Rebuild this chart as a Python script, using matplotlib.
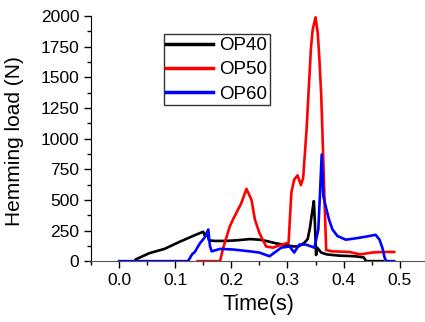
import matplotlib
matplotlib.use("Agg")
import matplotlib.pyplot as plt
from matplotlib.ticker import MultipleLocator

plt.rcParams['font.family'] = ['Liberation Sans', 'DejaVu Sans']

# OP40 (black)
t_op40 = [0.028, 0.03, 0.054, 0.081, 0.108, 0.135, 0.15, 0.153, 0.157, 0.16, 0.17, 0.19,
          0.21, 0.233, 0.25, 0.262, 0.28, 0.30, 0.31, 0.32, 0.33, 0.336, 0.34, 0.344,
          0.347, 0.349, 0.351, 0.353, 0.36, 0.37, 0.392, 0.42, 0.436, 0.44, 0.47]
f_op40 = [0, 15, 65, 100, 158, 212, 240, 205, 235, 170, 165, 165,
          170, 180, 175, 165, 145, 130, 120, 120, 150, 180, 270, 400,
          490, 300, 50, 110, 70, 55, 45, 40, 30, 0, 0]

# OP50 (red)
t_op50 = [0.14, 0.18, 0.185, 0.197, 0.203, 0.218, 0.227, 0.236, 0.242, 0.25, 0.262,
          0.274, 0.29, 0.302, 0.307, 0.312, 0.318, 0.324, 0.328, 0.334, 0.336, 0.339,
          0.342, 0.345, 0.35, 0.354, 0.357, 0.36, 0.362, 0.366, 0.369, 0.38, 0.41,
          0.43, 0.45, 0.47, 0.49]
f_op50 = [0, 0, 100, 280, 340, 475, 590, 500, 340, 230, 120,
          110, 135, 150, 560, 665, 700, 620, 680, 1070, 1240, 1500,
          1750, 1890, 1990, 1860, 1640, 1370, 1100, 500, 90, 80, 75,
          55, 70, 75, 75]

# OP60 (blue)
t_op60 = [0.0, 0.123, 0.13, 0.135, 0.144, 0.153, 0.159, 0.162, 0.165, 0.18, 0.203,
          0.233, 0.25, 0.268, 0.28, 0.289, 0.304, 0.312, 0.321, 0.333, 0.348, 0.355,
          0.358, 0.361, 0.364, 0.368, 0.374, 0.38, 0.389, 0.404, 0.42, 0.44, 0.457,
          0.464, 0.469, 0.473, 0.476, 0.49]
f_op60 = [0, 0, 55, 75, 145, 195, 258, 122, 80, 100, 95,
          80, 70, 40, 80, 110, 120, 70, 135, 135, 110, 260,
          555, 870, 530, 450, 340, 260, 205, 175, 185, 200, 215,
          175, 110, 30, 0, 0]

fig = plt.figure(figsize=(4.25, 3.22), dpi=100)
ax = fig.add_axes([0.214, 0.189, 0.786, 0.761])

ax.plot(t_op40, f_op40, color='black', lw=1.9, label='OP40')
ax.plot(t_op50, f_op50, color='red', lw=1.9, label='OP50')
ax.plot(t_op60, f_op60, color='blue', lw=1.9, label='OP60')

ax.set_xlim(-0.05, 0.545)
ax.set_ylim(0, 2000)
ax.xaxis.set_minor_locator(MultipleLocator(0.05))
ax.yaxis.set_major_locator(MultipleLocator(250))
ax.yaxis.set_minor_locator(MultipleLocator(125))
ax.set_xticks([0.0, 0.1, 0.2, 0.3, 0.4, 0.5])
ax.set_xticklabels(['0.0', '0.1', '0.2', '0.3', '0.4', '0.5'])

ax.spines['top'].set_visible(False)
ax.spines['right'].set_visible(False)
ax.spines['bottom'].set_color('#555555')
ax.tick_params(which='major', length=5, width=1, labelsize=12.5, direction='out')
ax.tick_params(which='minor', length=3, width=1, direction='out')

ax.set_xlabel('Time(s)', fontsize=15.5)
ax.set_ylabel('Hemming load (N)', fontsize=15)
ax.xaxis.set_label_coords(0.5, -0.135)
ax.yaxis.set_label_coords(-0.2, 0.49)

leg = ax.legend(loc='upper left', bbox_to_anchor=(0.385, 0.894), bbox_transform=fig.transFigure,
                fontsize=13.5, frameon=True, fancybox=False, edgecolor='black',
                handlelength=2.5, handletextpad=0.3, borderpad=0.15, labelspacing=0.38,
                borderaxespad=0)
leg.get_frame().set_linewidth(1.0)
for line in leg.get_lines():
    line.set_linewidth(2.5)

fig.savefig('out.png', dpi=100)
